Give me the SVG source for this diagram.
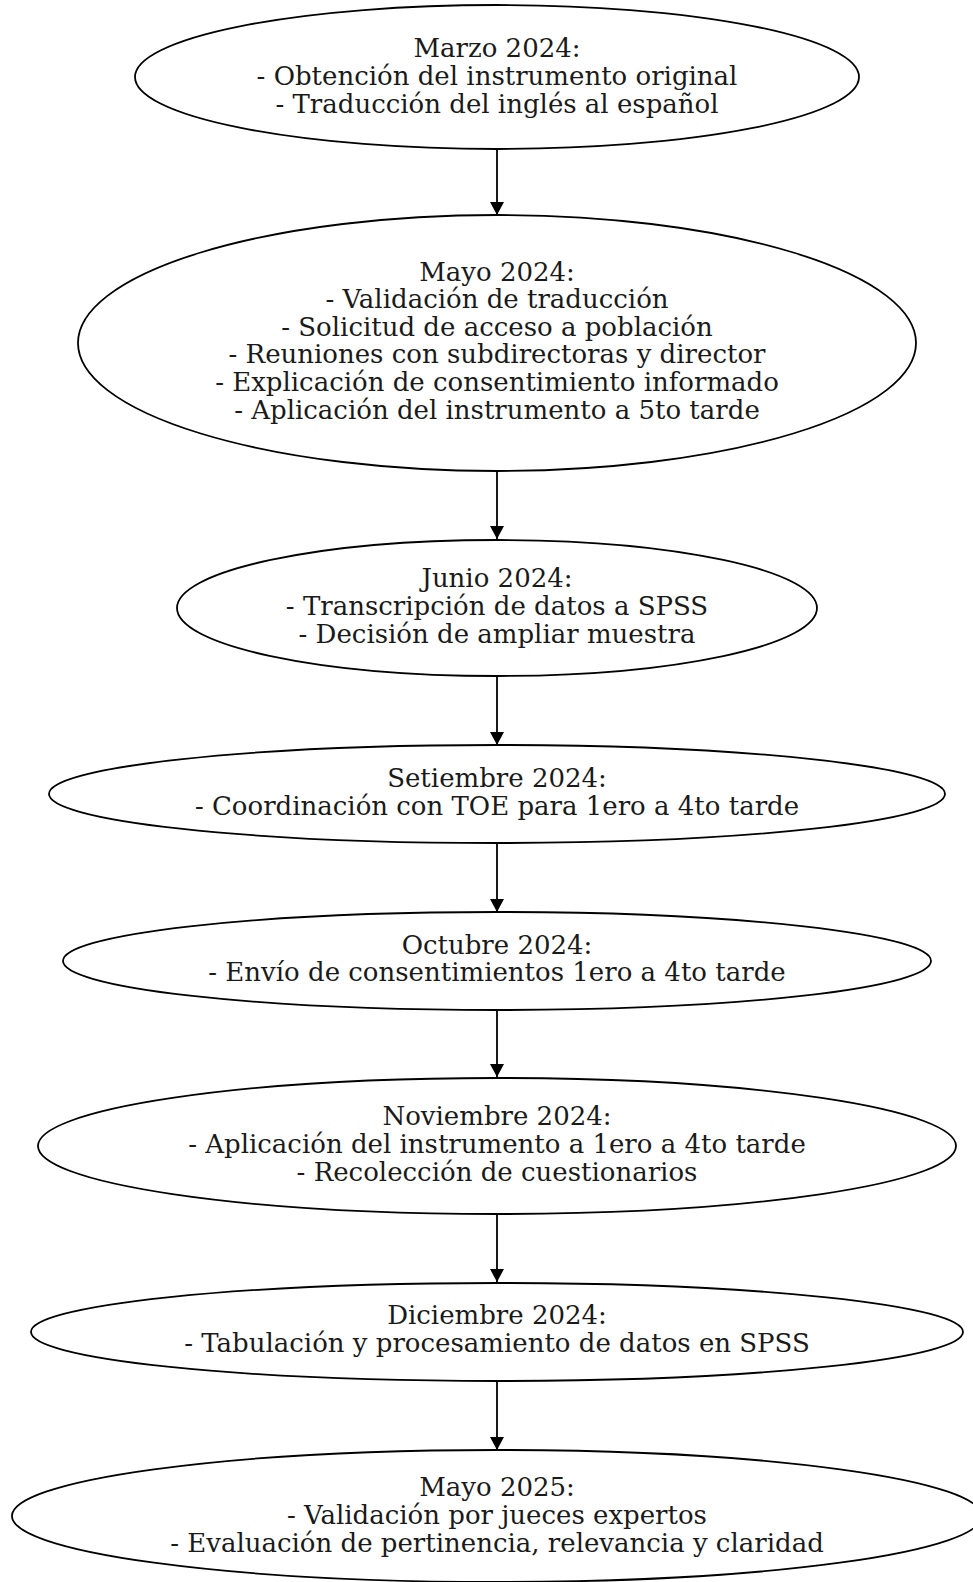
<svg xmlns="http://www.w3.org/2000/svg" width="973" height="1582" viewBox="0 0 973 1582">
<defs>
<style>
.n{fill:none;stroke:#000;stroke-width:1.8}
.t{font-family:"DejaVu Serif","Liberation Serif",serif;font-size:26px;fill:#1a1a1a;text-anchor:middle}
.e{stroke:#000;stroke-width:1.8;fill:none}
</style>
<marker id="ah" markerWidth="13" markerHeight="14" refX="13" refY="7" orient="auto" markerUnits="userSpaceOnUse" viewBox="0 0 13 14">
<path d="M0,0 L13,7 L0,14 Z" fill="#000"/>
</marker>
</defs>
<rect width="973" height="1582" fill="#fff"/>
<g id="edges">
<path class="e" d="M497,149 V215" marker-end="url(#ah)"/>
<path class="e" d="M497,471 V539" marker-end="url(#ah)"/>
<path class="e" d="M497,676 V745" marker-end="url(#ah)"/>
<path class="e" d="M497,843 V912" marker-end="url(#ah)"/>
<path class="e" d="M497,1010 V1077" marker-end="url(#ah)"/>
<path class="e" d="M497,1214 V1282" marker-end="url(#ah)"/>
<path class="e" d="M497,1381 V1450" marker-end="url(#ah)"/>
</g>
<g id="n1">
<ellipse class="n" cx="497" cy="77" rx="362" ry="72"/>
<text class="t" x="497" y="57">Marzo 2024:</text>
<text class="t" x="497" y="85">- Obtención del instrumento original</text>
<text class="t" x="497" y="113">- Traducción del inglés al español</text>
</g>
<g id="n2">
<ellipse class="n" cx="497" cy="343" rx="419" ry="128"/>
<text class="t" x="497" y="281">Mayo 2024:</text>
<text class="t" x="497" y="308">- Validación de traducción</text>
<text class="t" x="497" y="336">- Solicitud de acceso a población</text>
<text class="t" x="497" y="363">- Reuniones con subdirectoras y director</text>
<text class="t" x="497" y="391">- Explicación de consentimiento informado</text>
<text class="t" x="497" y="419">- Aplicación del instrumento a 5to tarde</text>
</g>
<g id="n3">
<ellipse class="n" cx="497" cy="608" rx="320" ry="68"/>
<text class="t" x="497" y="587">Junio 2024:</text>
<text class="t" x="497" y="615">- Transcripción de datos a SPSS</text>
<text class="t" x="497" y="643">- Decisión de ampliar muestra</text>
</g>
<g id="n4">
<ellipse class="n" cx="497" cy="794" rx="448" ry="49"/>
<text class="t" x="497" y="787">Setiembre 2024:</text>
<text class="t" x="497" y="815">- Coordinación con TOE para 1ero a 4to tarde</text>
</g>
<g id="n5">
<ellipse class="n" cx="497" cy="961" rx="434" ry="49"/>
<text class="t" x="497" y="954">Octubre 2024:</text>
<text class="t" x="497" y="981">- Envío de consentimientos 1ero a 4to tarde</text>
</g>
<g id="n6">
<ellipse class="n" cx="497" cy="1146" rx="459" ry="68"/>
<text class="t" x="497" y="1125">Noviembre 2024:</text>
<text class="t" x="497" y="1153">- Aplicación del instrumento a 1ero a 4to tarde</text>
<text class="t" x="497" y="1181">- Recolección de cuestionarios</text>
</g>
<g id="n7">
<ellipse class="n" cx="497" cy="1332" rx="466" ry="49"/>
<text class="t" x="497" y="1324">Diciembre 2024:</text>
<text class="t" x="497" y="1352">- Tabulación y procesamiento de datos en SPSS</text>
</g>
<g id="n8">
<ellipse class="n" cx="497" cy="1516" rx="485" ry="66"/>
<text class="t" x="497" y="1496">Mayo 2025:</text>
<text class="t" x="497" y="1524">- Validación por jueces expertos</text>
<text class="t" x="497" y="1552">- Evaluación de pertinencia, relevancia y claridad</text>
</g>
</svg>
